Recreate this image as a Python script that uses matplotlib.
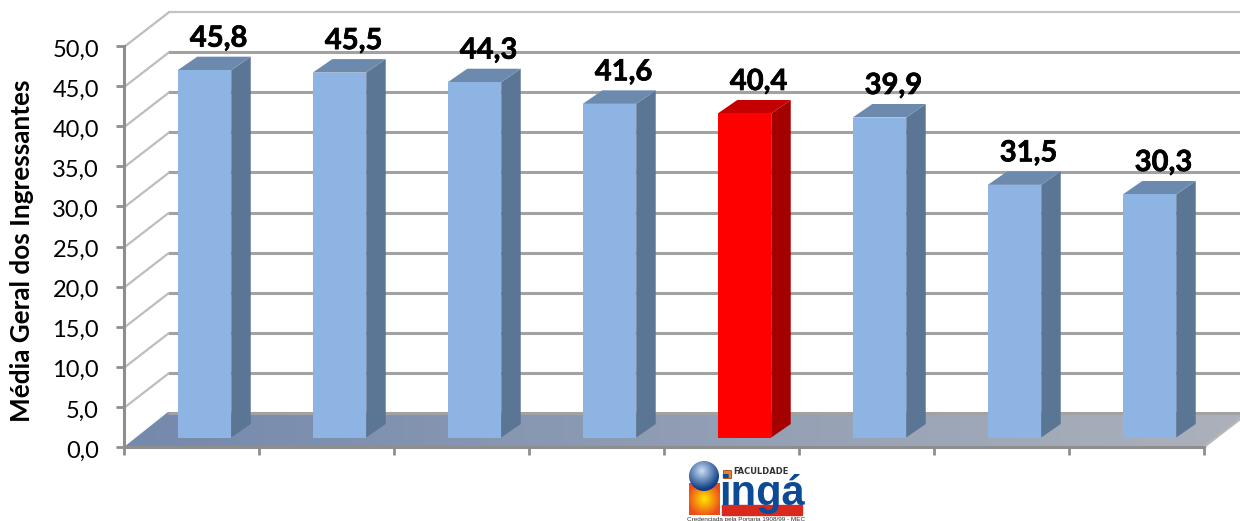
import numpy as np
import matplotlib
matplotlib.use("Agg")
import matplotlib.pyplot as plt
import matplotlib.patheffects as pe
from matplotlib.patches import Polygon, Circle, Rectangle
from matplotlib.transforms import Affine2D

values = [45.8, 45.5, 44.3, 41.6, 40.4, 39.9, 31.5, 30.3]
value_labels = ["45,8", "45,5", "44,3", "41,6", "40,4", "39,9", "31,5", "30,3"]
y_ticks = [0, 5, 10, 15, 20, 25, 30, 35, 40, 45, 50]
y_tick_labels = ["0,0", "5,0", "10,0", "15,0", "20,0", "25,0", "30,0", "35,0", "40,0", "45,0", "50,0"]
y_title = "Média Geral dos Ingressantes"
highlight_index = 4

W, H = 1240, 521
plt.rcParams['font.family'] = ['Lato', 'DejaVu Sans']
fig = plt.figure(figsize=(W / 100, H / 100), dpi=100, facecolor='white')

# pixel-space layer for floor gradient and logo
px = fig.add_axes([0, 0, 1, 1], zorder=0)
px.set_xlim(0, W); px.set_ylim(H, 0); px.axis('off')

floor_pts = [(124, 447), (168, 412), (1250, 412), (1205, 447)]
grad = np.linspace(0, 1, 256).reshape(1, -1)
c0, c1 = np.array([0x74, 0x89, 0xad]) / 255, np.array([0xac, 0xb1, 0xbb]) / 255
img = (c0[None, None, :] * (1 - grad[..., None]) + c1[None, None, :] * grad[..., None])
im = px.imshow(img, extent=(124, 1240, 447, 412), aspect='auto', zorder=1)
im.set_clip_path(Polygon(floor_pts, transform=px.transData))

# logo
sx, sy = np.meshgrid(np.linspace(-1, 1, 80), np.linspace(-1, 1, 80))
d = np.clip(np.hypot(sx + 0.15, sy + 0.35) / 1.25, 0, 1)[..., None]
sphere = (1 - d) * np.array([0.80, 0.88, 0.96]) + d * np.array([0.05, 0.24, 0.52])
yd = np.clip(np.hypot(sx, sy) / 1.1, 0, 1)[..., None]
block = (1 - yd) * np.array([1.0, 0.90, 0.0]) + yd * np.array([0.93, 0.30, 0.10])
px.imshow(block, extent=(689, 720, 515, 483), aspect='auto', zorder=3)
s = px.imshow(sphere, extent=(689, 719, 491, 461), aspect='auto', zorder=4)
s.set_clip_path(Circle((704, 476), 15, transform=px.transData))
px.add_patch(Rectangle((722, 505), 80, 10, color='#d9281e', zorder=3))
px.add_patch(Rectangle((723, 470), 8, 8, facecolor='#e8822a', edgecolor='#a04a10', lw=0.6, zorder=3))
px.text(733, 472, "FACULDADE", fontsize=6.0, fontweight='bold', color='#333333',
        family='Liberation Sans Narrow', va='center', ha='left', zorder=5)
px.text(762, 505, "ingá", fontsize=30, fontweight='bold', color='#0d4a96',
        family='Liberation Sans', va='baseline', ha='center', zorder=5)
px.text(746, 520, "Credenciada pela Portaria 1908/99 - MEC", fontsize=4.6, color='#333333',
        family='Liberation Sans', va='center', ha='center', zorder=5)
px.set_xlim(0, W); px.set_ylim(H, 0)

# main chart axes
ax = fig.add_axes([124 / W, (H - 447) / H, 1080 / W, 401 / H], zorder=1)
ax.patch.set_alpha(0)
ax.set_xlim(0, len(values)); ax.set_ylim(0, 50)
for sp in ['top', 'right']:
    ax.spines[sp].set_visible(False)
for sp in ['left', 'bottom']:
    ax.spines[sp].set_color('#8e8e8e'); ax.spines[sp].set_linewidth(2.2)
ax.set_yticks(y_ticks); ax.set_yticklabels(y_tick_labels, fontsize=17, color='black')
ax.set_xticks(range(len(values) + 1)); ax.set_xticklabels([])
ax.tick_params(axis='both', color='#8e8e8e', width=2.0, length=6)
ax.tick_params(axis='y', pad=12)
for t in ax.get_yticklabels():
    t.set_transform(t.get_transform() + Affine2D().translate(0, -2))

def shifted(dx, dy):
    """data -> display, then shift by pixels (dy up positive)."""
    return ax.transData + Affine2D().translate(dx, dy)

# back wall gridlines and side wall diagonals
back = shifted(44, 34)
for v in y_ticks:
    top = v == y_ticks[-1]
    ax.plot([0, 8.3], [v, v], transform=back, color='#c4c4c4' if top else '#a2a2a2',
            lw=1.6 if top else 2.2, clip_on=False, zorder=1, solid_capstyle='butt')
    if v > 0:
        x0, y0 = ax.transData.transform((0, v))
        ax.plot([x0, x0 + 44], [y0 - 1, y0 + 33], transform=None, color='#bdbdbd', lw=1.6,
                clip_on=False, zorder=1)
x1, y1 = ax.transData.transform((8, 0))
ax.plot([x1, x1 + 44], [y1, y1 + 34], transform=None, color='#b8b8b8', lw=1.6, clip_on=False, zorder=1)

# 3D bars
bar_w, cx_dx, base_dy, depth_x, depth_y = 0.396, 13, 9.5, 19.5, 13.5
x_pos = np.arange(len(values)) + 0.5
for i, (xc, v, lab) in enumerate(zip(x_pos, values, value_labels)):
    hi = i == highlight_index
    front = '#ff0000' if hi else '#8eb4e3'
    side = '#a50000' if hi else '#5b7595'
    topc = '#c40000' if hi else '#6c8aae'
    l, r = xc - bar_w / 2, xc + bar_w / 2
    tr = shifted(cx_dx, base_dy)
    p = lambda xd, yd: tr.transform((xd, yd))
    fl, fr, tl, trr = p(l, 0), p(r, 0), p(l, v), p(r, v)
    dv = np.array([depth_x, depth_y])
    for pts, col, z in [([fr, trr, trr + dv, fr + dv], side, 3),
                        ([tl, trr, trr + dv, tl + dv], topc, 3),
                        ([fl, fr, trr, tl], front, 4)]:
        ax.add_patch(Polygon(pts, closed=True, facecolor=col, edgecolor='none',
                             transform=None, clip_on=False, zorder=z))
    ax.text(xc, v, lab, transform=shifted(27, 41), fontsize=21, fontweight='bold',
            color='black', ha='center', va='center', clip_on=False, zorder=6,
            path_effects=[pe.withStroke(linewidth=0.5, foreground='black')])

fig.text(22 / W, 1 - 251 / H, y_title, rotation=90, fontsize=18.8, fontweight='bold',
         color='black', ha='center', va='center')

fig.savefig('out.png', dpi=100, facecolor='white')
